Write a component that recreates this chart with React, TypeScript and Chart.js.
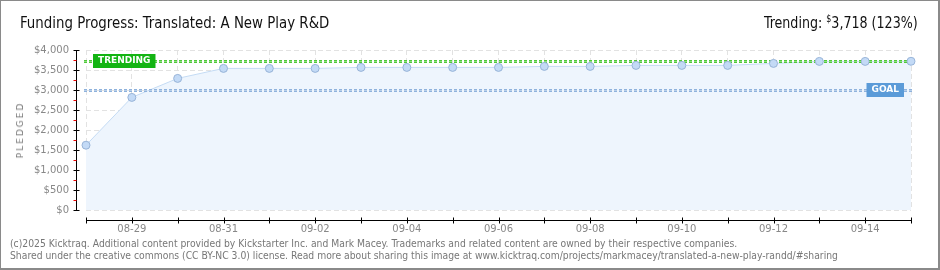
import React, { useEffect, useRef } from 'react';
import { Chart, registerables } from 'chart.js';
Chart.register(...registerables);

const dates = ['08-28','08-29','08-30','08-31','09-01','09-02','09-03','09-04','09-05','09-06','09-07','09-08','09-09','09-10','09-11','09-12','09-13','09-14','09-15'];
const pledged = [1620, 2815, 3290, 3540, 3540, 3540, 3565, 3565, 3565, 3565, 3590, 3590, 3615, 3615, 3615, 3665, 3715, 3715, 3718];
const goalValue = 3000;
const trendingValue = 3718;
const trendingPct = '123%';
const yMax = 4000;
const yStep = 500;

const title = 'Funding Progress: Translated: A New Play R&D';
const footer1 = '(c)2025 Kicktraq. Additional content provided by Kickstarter Inc. and Mark Macey. Trademarks and related content are owned by their respective companies.';
const footer2 = 'Shared under the creative commons (CC BY-NC 3.0) license. Read more about sharing this image at www.kicktraq.com/projects/markmacey/translated-a-new-play-randd/#sharing';

const refPlugin = {
  id: 'refLines',
  afterDatasetDraw(chart: any, args: any) {
    if (args.index !== 0) return;
    const { ctx, chartArea } = chart;
    const y = chart.scales.y;
    const drawDash = (v: number, color: string, edge: string) => {
      const py = Math.round(y.getPixelForValue(v)) + 0.5;
      ctx.save();
      ctx.lineWidth = 3;
      ctx.setLineDash([3, 2]);
      ctx.strokeStyle = edge;
      ctx.beginPath();
      ctx.moveTo(chartArea.left - 2, py);
      ctx.lineTo(chartArea.right + 2, py);
      ctx.stroke();
      ctx.lineWidth = 1;
      ctx.strokeStyle = color;
      ctx.stroke();
      ctx.restore();
    };
    drawDash(trendingValue, '#8fe07f', '#4fc83a');
    drawDash(goalValue, '#b9d0ea', '#8fb2dc');
  },
  afterDraw(chart: any) {
    const { ctx, chartArea } = chart;
    const y = chart.scales.y;
    const x = chart.scales.x;
    ctx.save();
    const ax = chartArea.left - 10 + 0.5;
    ctx.strokeStyle = '#000';
    ctx.lineWidth = 1;
    ctx.beginPath();
    ctx.moveTo(ax, chartArea.top);
    ctx.lineTo(ax, chartArea.bottom + 1);
    ctx.stroke();
    for (let v = 0; v <= yMax; v += yStep) {
      const py = Math.round(y.getPixelForValue(v)) + 0.5;
      ctx.strokeStyle = '#000';
      ctx.beginPath();
      ctx.moveTo(ax - 3, py);
      ctx.lineTo(ax + 3, py);
      ctx.stroke();
      if (v + yStep / 2 < yMax) {
        const pm = Math.round(y.getPixelForValue(v + yStep / 2)) + 0.5;
        ctx.strokeStyle = '#e00';
        ctx.beginPath();
        ctx.moveTo(ax - 3, pm);
        ctx.lineTo(ax, pm);
        ctx.stroke();
      }
    }
    const ay = chartArea.bottom + 10 + 0.5;
    ctx.strokeStyle = '#000';
    ctx.beginPath();
    ctx.moveTo(chartArea.left, ay);
    ctx.lineTo(chartArea.right + 1, ay);
    ctx.stroke();
    for (let i = 0; i < dates.length; i++) {
      const px = Math.round(x.getPixelForValue(i)) + 0.5;
      ctx.beginPath();
      ctx.moveTo(px, ay - 3);
      ctx.lineTo(px, ay + 3);
      ctx.stroke();
    }
    const drawTag = (text: string, v: number, color: string, alignRight: boolean) => {
      const py = Math.round(y.getPixelForValue(v));
      ctx.font = 'bold 9px "DejaVu Sans"';
      const w = ctx.measureText(text).width + 10;
      const h = 13;
      const left = alignRight ? chartArea.right - 7 - w : chartArea.left + 7;
      ctx.fillStyle = color;
      ctx.fillRect(left, py - 7, w, h + 1);
      ctx.fillStyle = '#fff';
      ctx.textBaseline = 'middle';
      ctx.textAlign = 'left';
      ctx.fillText(text, left + 5, py);
    };
    drawTag('TRENDING', trendingValue, '#13b413', false);
    drawTag('GOAL', goalValue, '#5b9bd8', true);
    ctx.restore();
  },
};

export default function App() {
  const ref = useRef<HTMLCanvasElement>(null);
  useEffect(() => {
    const chart = new Chart(ref.current!, {
      type: 'line',
      data: {
        labels: dates,
        datasets: [
          {
            data: pledged,
            borderColor: '#c4dbf4',
            borderWidth: 1,
            backgroundColor: '#eef5fd',
            fill: 'origin',
            pointRadius: 0,
            tension: 0,
            order: 2,
          },
          {
            data: pledged,
            showLine: false,
            pointRadius: 4,
            pointBackgroundColor: '#c3daf6',
            pointBorderColor: '#98b4d8',
            pointBorderWidth: 1,
            order: 1,
          },
        ],
      },
      options: {
        responsive: false,
        animation: false,
        events: [],
        layout: { padding: { top: 50, left: 0, right: 29, bottom: 35 } },
        plugins: { legend: { display: false }, tooltip: { enabled: false } },
        scales: {
          x: {
            type: 'category',
            offset: false,
            afterFit: (s: any) => { s.height = 25; },
            grid: { color: '#e2e2e2', drawTicks: false },
            border: { display: false, dash: [5, 3] },
            ticks: {
              autoSkip: false,
              maxRotation: 0,
              padding: 13,
              color: '#888',
              font: { family: '"DejaVu Sans"', size: 10 },
              callback: (_v: any, i: number) => (i % 2 === 1 ? dates[i] : ''),
            },
          },
          y: {
            min: 0,
            max: yMax,
            afterFit: (s: any) => { s.width = 86; },
            grid: { color: '#e2e2e2', drawTicks: false },
            border: { display: false, dash: [5, 3] },
            ticks: {
              stepSize: yStep,
              padding: 17,
              color: '#888',
              font: { family: '"DejaVu Sans"', size: 10 },
              callback: (v: any) => '$' + Number(v).toLocaleString('en-US'),
            },
          },
        },
      },
      plugins: [refPlugin],
    });
    return () => chart.destroy();
  }, []);

  return (
    <div style={{ position: 'absolute', left: 0, top: 0, width: 940, height: 270, background: '#fff', overflow: 'hidden' }}>
      <canvas ref={ref} width={940} height={270} style={{ position: 'absolute', left: 0, top: 0 }} />
      <div style={{ position: 'absolute', left: 20, top: 13, font: '16px "DejaVu Sans Condensed", sans-serif', color: '#111', whiteSpace: 'nowrap', transform: 'scaleX(0.928)', transformOrigin: 'left top' }}>{title}</div>
      <div style={{ position: 'absolute', right: 22, top: 13, font: '16px "DejaVu Sans Condensed", sans-serif', color: '#111', whiteSpace: 'nowrap', transform: 'scaleX(0.88)', transformOrigin: 'right top' }}>
        Trending: <sup style={{ fontSize: 10 }}>$</sup>3,718 ({trendingPct})
      </div>
      <div style={{ position: 'absolute', left: 20, top: 130, transform: 'translate(-50%,-50%) rotate(-90deg)', font: '9px "DejaVu Sans", sans-serif', letterSpacing: 2, color: '#777', whiteSpace: 'nowrap' }}>PLEDGED</div>
      <div style={{ position: 'absolute', left: 10, top: 238, font: '10px "DejaVu Sans", sans-serif', color: '#777', whiteSpace: 'nowrap', lineHeight: '12px', transform: 'scaleX(0.925)', transformOrigin: 'left top' }}>
        <div>{footer1}</div>
        <div>{footer2}</div>
      </div>
      <div style={{ position: 'absolute', left: 0, top: 0, width: 940, height: 270, boxSizing: 'border-box', borderStyle: 'solid', borderColor: '#8a8a8a', borderWidth: '1px 2px 2px 1px', pointerEvents: 'none' }} />
    </div>
  );
}
